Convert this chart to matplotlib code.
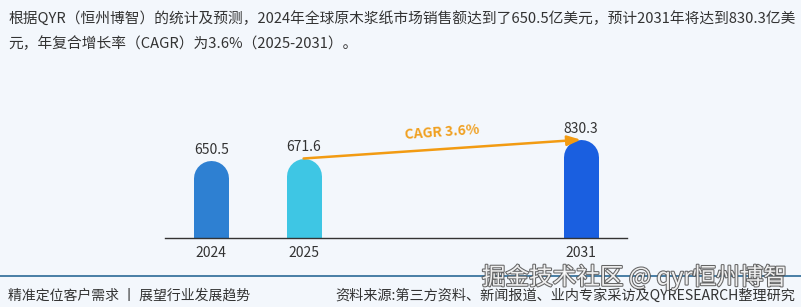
import matplotlib.pyplot as plt
import matplotlib.patheffects as pe

plt.rcParams['font.family'] = ['Noto Sans CJK SC', 'DejaVu Sans']

# data
years = ["2024", "2025", "2031"]
positions = [0, 1, 4]          # 2026-2030 slots left empty
values = [650.5, 671.6, 830.3]
colors = ["#2e80d2", "#3ec6e4", "#1a5fe0"]
cagr_label = "CAGR 3.6%"

intro_1 = "根据QYR（恒州博智）的统计及预测，2024年全球原木浆纸市场销售额达到了650.5亿美元，预计2031年将达到830.3亿美"
intro_2 = "元，年复合增长率（CAGR）为3.6%（2025-2031）。"
footer_left = "精准定位客户需求 丨 展望行业发展趋势"
footer_right = "资料来源:第三方资料、新闻报道、业内专家采访及QYRESEARCH整理研究"
watermark = "掘金技术社区 @ qyr恒州博智"

BG = "#f3f7fc"
TXT = "#333333"
W, H = 801, 307
DPI = 100

fig = plt.figure(figsize=(W / DPI, H / DPI), dpi=DPI, facecolor=BG)

# chart area in pixels: left 165, right 627, baseline at y=238
ax = fig.add_axes([165 / W, 1 - 238 / H, 462 / W, 118.4 / H])
ax.set_facecolor("none")
ax.set_xlim(-0.5, 4.5)
ax.set_ylim(0, 1000)
for s in ["top", "right", "left"]:
    ax.spines[s].set_visible(False)
ax.spines["bottom"].set_color("#333333")
ax.spines["bottom"].set_linewidth(1.0)
ax.set_yticks([])
ax.set_xticks(positions)
ax.set_xticklabels(years, fontsize=10, color=TXT)
ax.tick_params(axis="x", length=0, pad=6)

# rounded-top bars: thick lines with round caps, bottom clipped by the axes
bar_px = 35
lw = bar_px * 72 / DPI
px_per_unit = 118.4 / 1000
r_units = (bar_px / 2) / px_per_unit
for x, v, c in zip(positions, values, colors):
    ax.plot([x, x], [-r_units * 2, v - r_units], color=c, linewidth=lw,
            solid_capstyle="round", clip_on=True, zorder=2)
    ax.annotate(f"{v}", (x, v), xytext=(0, 3), textcoords="offset points",
                ha="center", va="bottom", fontsize=10, color=TXT)

# CAGR arrow from 2025 to 2031
ax.annotate("", xy=(positions[2], values[2]), xytext=(positions[1], values[1]),
            arrowprops=dict(arrowstyle="-|>,head_length=0.8,head_width=0.3",
                            color="#f29b12", lw=1.8, shrinkA=0, shrinkB=0),
            zorder=3, annotation_clip=False)
mid_x = (positions[1] + positions[2]) / 2
mid_y = (values[1] + values[2]) / 2
ax.annotate(cagr_label, (mid_x, mid_y), xytext=(0, 12), textcoords="offset points",
            ha="center", va="center", fontsize=10, fontweight="bold",
            color="#f0a020", rotation=4, annotation_clip=False)

# header text
fig.text(8 / W, 1 - 18 / H, intro_1, fontsize=10.6, color=TXT, va="center", ha="left")
fig.text(8 / W, 1 - 44 / H, intro_2, fontsize=10.6, color=TXT, va="center", ha="left")

# footer
fig.add_artist(plt.Line2D([0, 1], [1 - 276 / H] * 2, color="#2b6a96", lw=1.2,
                          transform=fig.transFigure))
fig.text(8 / W, 1 - 296 / H, footer_left, fontsize=10, color=TXT, va="center", ha="left")
fig.text(795 / W, 1 - 296 / H, footer_right, fontsize=10.2, color=TXT, va="center", ha="right")

# site watermark
fig.text(787 / W, 1 - 277 / H, watermark, fontsize=17, color="white", alpha=0.9,
         va="center", ha="right",
         path_effects=[pe.withStroke(linewidth=1.5, foreground="#555555")])

fig.savefig("out.png", dpi=DPI, facecolor=BG)
